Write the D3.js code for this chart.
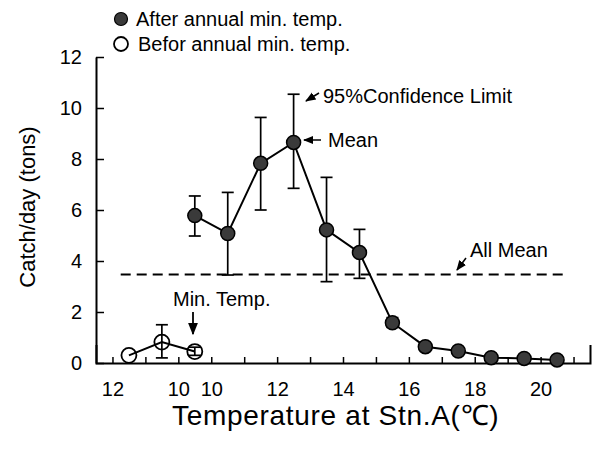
<!DOCTYPE html>
<html>
<head>
<meta charset="utf-8">
<script src="https://cdn.jsdelivr.net/npm/d3@7"></script>
<style>
  body { margin: 0; background: #fff; }
  svg { display: block; font-family: "Liberation Sans", Arial, sans-serif; }
</style>
</head>
<body>
<svg id="chart" width="602" height="458"></svg>
<script>
// temperatures (bin centres) before / after the annual minimum
const beforeTemp = [11.5, 10.5, 9.5];
const beforeMean = [0.3, 0.82, 0.45];
const beforeLo = [null, 0.2, 0.3];
const beforeHi = [null, 1.5, 0.62];

const afterTemp = [9.5, 10.5, 11.5, 12.5, 13.5, 14.5, 15.5, 16.5, 17.5, 18.5, 19.5, 20.5];
const afterMean = [5.78, 5.08, 7.83, 8.65, 5.22, 4.33, 1.58, 0.64, 0.47, 0.21, 0.18, 0.12];
const afterLo = [4.98, 3.45, 6.0, 6.85, 3.19, 3.32, 1.4, null, null, null, null, null];
const afterHi = [6.55, 6.69, 9.63, 10.54, 7.28, 5.24, 1.78, null, null, null, null, null];

const allMean = 3.47;

const beforeTicks = [12, 11, 10];
const afterTicks = [10, 11, 12, 13, 14, 15, 16, 17, 18, 19, 20, 21];
const beforeLabels = [12, 10];
const afterLabels = [10, 12, 14, 16, 18, 20];
const yTicks = [0, 2, 4, 6, 8, 10, 12];

// the axis runs 12 -> 10 (before) then 10 -> 21 (after)
const posBefore = (t) => 12 - t;
const posAfter = (t) => t - 7;

const svg = d3.select("#chart");
const x = d3.scaleLinear().domain([-0.5, 14.5]).range([96, 590]);
const y = d3.scaleLinear().domain([0, 12]).range([363, 57]);

const tickPos = beforeTicks.map(posBefore).concat(afterTicks.map(posAfter));
const labelAt = new Map();
beforeLabels.forEach((t) => labelAt.set(posBefore(t), t));
afterLabels.forEach((t) => labelAt.set(posAfter(t), t));

// arrow head
svg.append("defs").append("marker")
  .attr("id", "arr")
  .attr("viewBox", "0 0 10 10")
  .attr("refX", 9).attr("refY", 5)
  .attr("markerWidth", 7).attr("markerHeight", 7)
  .attr("orient", "auto")
  .append("path").attr("d", "M0,1 L10,5 L0,9 Z").attr("fill", "#000");

// axes
const gx = svg.append("g")
  .attr("transform", `translate(0,${y(0)})`)
  .call(d3.axisBottom(x).tickValues(tickPos)
    .tickSize(-6).tickSizeOuter(-18).tickPadding(19)
    .tickFormat((p) => labelAt.has(p) ? labelAt.get(p) : ""));

const gy = svg.append("g")
  .attr("transform", `translate(${x.range()[0]},0)`)
  .call(d3.axisLeft(y).tickValues(yTicks)
    .tickSize(-8).tickSizeOuter(0).tickPadding(14));

[gx, gy].forEach((g) => {
  g.select(".domain").attr("stroke", "#000").attr("stroke-width", 2);
  g.selectAll(".tick line").attr("stroke", "#000").attr("stroke-width", 1.5);
  g.selectAll(".tick text")
    .attr("fill", "#000")
    .style("font-family", "Liberation Sans, Arial, sans-serif")
    .style("font-size", "20px");
});

// all-mean dashed line
svg.append("line")
  .attr("x1", x(0.25)).attr("x2", x(13.7))
  .attr("y1", y(allMean)).attr("y2", y(allMean))
  .attr("stroke", "#000").attr("stroke-width", 1.8)
  .attr("stroke-dasharray", "10,6");

const before = beforeTemp.map((t, i) => ({
  p: posBefore(t), m: beforeMean[i], lo: beforeLo[i], hi: beforeHi[i],
}));
const after = afterTemp.map((t, i) => ({
  p: posAfter(t), m: afterMean[i], lo: afterLo[i], hi: afterHi[i],
}));

const line = d3.line().x((d) => x(d.p)).y((d) => y(d.m));

function errorBars(data) {
  const g = svg.append("g").attr("stroke", "#000").attr("stroke-width", 1.7);
  const withBars = data.filter((d) => d.lo != null);
  g.selectAll(".v").data(withBars).join("line")
    .attr("x1", (d) => x(d.p)).attr("x2", (d) => x(d.p))
    .attr("y1", (d) => y(d.lo)).attr("y2", (d) => y(d.hi));
  ["lo", "hi"].forEach((k) => {
    g.selectAll(".c" + k).data(withBars).join("line")
      .attr("x1", (d) => x(d.p) - 6).attr("x2", (d) => x(d.p) + 6)
      .attr("y1", (d) => y(d[k])).attr("y2", (d) => y(d[k]));
  });
}

errorBars(before);
errorBars(after);

svg.append("path").datum(before).attr("d", line)
  .attr("fill", "none").attr("stroke", "#000").attr("stroke-width", 2);
svg.append("path").datum(after).attr("d", line)
  .attr("fill", "none").attr("stroke", "#000").attr("stroke-width", 2);

svg.append("g").selectAll("circle").data(before).join("circle")
  .attr("cx", (d) => x(d.p)).attr("cy", (d) => y(d.m)).attr("r", 7.5)
  .attr("fill", "none").attr("stroke", "#000").attr("stroke-width", 1.8);

svg.append("g").selectAll("circle").data(after).join("circle")
  .attr("cx", (d) => x(d.p)).attr("cy", (d) => y(d.m)).attr("r", 7)
  .attr("fill", "#3a3a3a").attr("stroke", "#000").attr("stroke-width", 1.5);

// legend
const legend = svg.append("g").style("font-size", "20px");
legend.append("circle").attr("cx", 121).attr("cy", 19).attr("r", 6.5)
  .attr("fill", "#3a3a3a").attr("stroke", "#000").attr("stroke-width", 1.2);
legend.append("text").attr("x", 136).attr("y", 26).text("After annual min. temp.");
legend.append("circle").attr("cx", 121).attr("cy", 44).attr("r", 7)
  .attr("fill", "none").attr("stroke", "#000").attr("stroke-width", 1.8);
legend.append("text").attr("x", 138).attr("y", 51).text("Befor annual min. temp.");

// annotations
const notes = svg.append("g").style("font-size", "20px");
notes.append("text").attr("x", 323).attr("y", 103).text("95%Confidence Limit");
notes.append("line").attr("x1", 319).attr("y1", 93).attr("x2", 306).attr("y2", 101)
  .attr("stroke", "#000").attr("stroke-width", 1.5).attr("marker-end", "url(#arr)");
notes.append("text").attr("x", 328).attr("y", 147).text("Mean");
notes.append("line").attr("x1", 321).attr("y1", 140).attr("x2", 304).attr("y2", 140)
  .attr("stroke", "#000").attr("stroke-width", 1.5).attr("marker-end", "url(#arr)");
notes.append("text").attr("x", 470).attr("y", 257).text("All Mean");
notes.append("line").attr("x1", 466).attr("y1", 258).attr("x2", 457).attr("y2", 270)
  .attr("stroke", "#000").attr("stroke-width", 1.5).attr("marker-end", "url(#arr)");
notes.append("text").attr("x", 173).attr("y", 306).text("Min. Temp.");
notes.append("line").attr("x1", 193).attr("y1", 312).attr("x2", 193).attr("y2", 334)
  .attr("stroke", "#000").attr("stroke-width", 1.8).attr("marker-end", "url(#arr)");

// axis titles
svg.append("text")
  .attr("transform", "translate(35,207) rotate(-90)")
  .attr("text-anchor", "middle").style("font-size", "22px")
  .text("Catch/day (tons)");
svg.append("text")
  .attr("x", 172).attr("y", 425).style("font-size", "28px")
  .style("letter-spacing", "0.7px")
  .text("Temperature at Stn.A(℃)");
</script>
</body>
</html>
